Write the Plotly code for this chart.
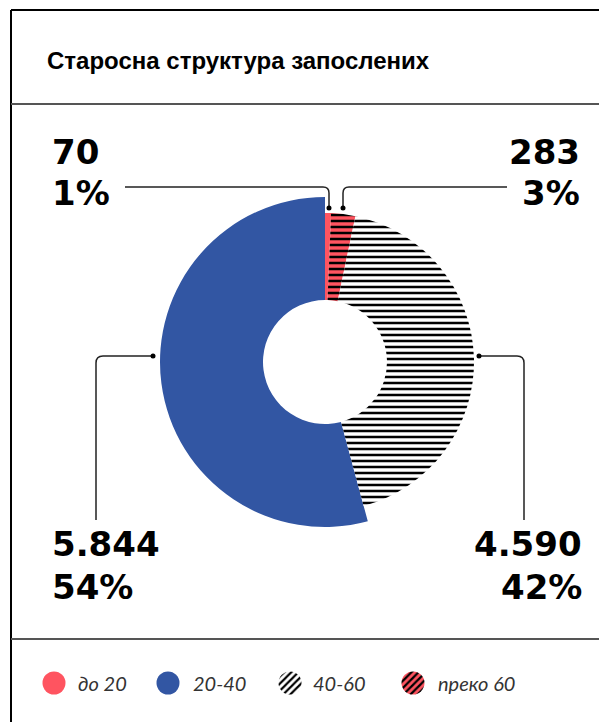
import plotly.graph_objects as go

# the page body has an 8px margin, so the figure is placed at (8, 8)
OFF = 8
W, H = 607 - OFF, 722 - OFF

# data
categories = ["до 20", "20-40", "40-60", "преко 60"]
employees = [70, 5844, 4590, 283]
shares = ["1%", "54%", "42%", "3%"]
colors = ["#ff5460", "#3256a3", "#ffffff", "#ff5460"]
patterns = ["", "", "-", "-"]
legend_patterns = ["", "", "/", "/"]
slice_order = [0, 3, 2, 1]  # clockwise from 12 o'clock

CX, CY = 325, 362
R_OUT, R_IN, R_HOLE = 165, 149, 62
LABEL_FONT = dict(family="DejaVu Sans", size=34, color="#000000", weight="bold")


def px_x(x):
    return (x - OFF) / W


def px_y(y):
    return 1 - (y - OFF) / H


def domain(cx, cy, r):
    return dict(x=[px_x(cx - r), px_x(cx + r)], y=[px_y(cy + r), px_y(cy - r)])


fig = go.Figure()

labels = [categories[i] for i in slice_order]
vals = [employees[i] for i in slice_order]

# outer ring: only the 20-40 slice is visible
fig.add_trace(go.Pie(
    labels=labels, values=vals, sort=False, direction="clockwise", rotation=0,
    hole=R_HOLE / R_OUT, domain=domain(CX, CY, R_OUT), textinfo="none",
    marker=dict(colors=[colors[i] if i == 1 else "rgba(0,0,0,0)" for i in slice_order],
                line=dict(width=0)),
    showlegend=False, hoverinfo="label+value",
))
# inner ring: the other slices
fig.add_trace(go.Pie(
    labels=labels, values=vals, sort=False, direction="clockwise", rotation=0,
    hole=R_HOLE / R_IN, domain=domain(CX, CY, R_IN), textinfo="none",
    marker=dict(colors=["rgba(0,0,0,0)" if i == 1 else colors[i] for i in slice_order],
                line=dict(width=0),
                pattern=dict(shape=["" if i == 1 else patterns[i] for i in slice_order],
                             fgcolor="#000000",
                             bgcolor=["rgba(0,0,0,0)" if i == 1 else colors[i] for i in slice_order],
                             size=6, solidity=0.42, fillmode="replace")),
    showlegend=False, hoverinfo="label+value",
))

# custom legend: little round pies with patterns
legend_x = [54, 168, 290, 413]
legend_text_x = [76, 191, 311, 436]
LEG_Y = 683
for i, cat in enumerate(categories):
    fig.add_trace(go.Pie(
        labels=[cat], values=[1], sort=False, textinfo="none", hoverinfo="label",
        domain=domain(legend_x[i], LEG_Y, 11.5), showlegend=False,
        marker=dict(colors=[colors[i]], line=dict(width=0),
                    pattern=dict(shape=[legend_patterns[i]], fgcolor="#000000",
                                 bgcolor=[colors[i]], size=5, solidity=0.45,
                                 fillmode="replace")),
    ))
    fig.add_annotation(x=px_x(legend_text_x[i]), y=px_y(LEG_Y), xref="paper", yref="paper",
                       text=cat, showarrow=False, xanchor="left", yanchor="middle",
                       font=dict(family="Lato", size=20, color="#333333", style="italic"))

shapes = []
# frame
shapes.append(dict(type="line", xref="paper", yref="paper", x0=px_x(11), x1=1,
                   y0=px_y(10), y1=px_y(10), line=dict(color="#000000", width=2)))
shapes.append(dict(type="line", xref="paper", yref="paper", x0=px_x(11), x1=px_x(11),
                   y0=px_y(10), y1=0, line=dict(color="#000000", width=2)))
for yy in (104, 639):
    shapes.append(dict(type="line", xref="paper", yref="paper", x0=px_x(11), x1=1,
                       y0=px_y(yy), y1=px_y(yy), line=dict(color="#555555", width=2)))

# leader lines (page pixel coordinates on hidden axes)
LC = dict(color="#222222", width=1.5)
leaders = {
    0: "M 125 187 L 323 187 Q 329 187 329 193 L 329 208",
    3: "M 507 187 L 349 187 Q 343 187 343 193 L 343 208",
    1: "M 153 356 L 103 356 Q 96 356 96 363 L 96 520",
    2: "M 479 356 L 517 356 Q 524 356 524 363 L 524 520",
}
dots = {0: (329, 208), 3: (343, 208), 1: (153, 356), 2: (479, 356)}
for k, path in leaders.items():
    shapes.append(dict(type="path", xref="x", yref="y", path=path, line=LC))
    dx, dy = dots[k]
    shapes.append(dict(type="circle", xref="x", yref="y", x0=dx - 2.5, x1=dx + 2.5,
                       y0=dy - 2.5, y1=dy + 2.5, fillcolor="#000000", line=dict(width=0)))

# value labels
label_pos = {
    0: (50, "left", 152, 193),
    3: (582, "right", 152, 193),
    1: (50, "left", 544, 587),
    2: (584, "right", 544, 587),
}
for i, (lx, anchor, y1, y2) in label_pos.items():
    fig.add_annotation(x=px_x(lx), y=px_y(y1), xref="paper", yref="paper",
                       text=f"{employees[i]:,}".replace(",", "."), showarrow=False,
                       xanchor=anchor, yanchor="middle", font=LABEL_FONT)
    fig.add_annotation(x=px_x(lx), y=px_y(y2), xref="paper", yref="paper",
                       text=shares[i], showarrow=False,
                       xanchor=anchor, yanchor="middle", font=LABEL_FONT)

fig.add_annotation(x=px_x(45), y=px_y(61), xref="paper", yref="paper",
                   text="Старосна структура запослених", showarrow=False,
                   xanchor="left", yanchor="middle",
                   font=dict(family="Liberation Sans", size=24, color="#000000", weight="bold"))

fig.update_layout(
    width=W, height=H, margin=dict(l=0, r=0, t=0, b=0),
    paper_bgcolor="#ffffff", plot_bgcolor="rgba(0,0,0,0)",
    shapes=shapes, showlegend=False,
    xaxis=dict(range=[OFF, OFF + W], visible=False, fixedrange=True),
    yaxis=dict(range=[OFF + H, OFF], visible=False, fixedrange=True),
)

fig.write_html("out.html")
